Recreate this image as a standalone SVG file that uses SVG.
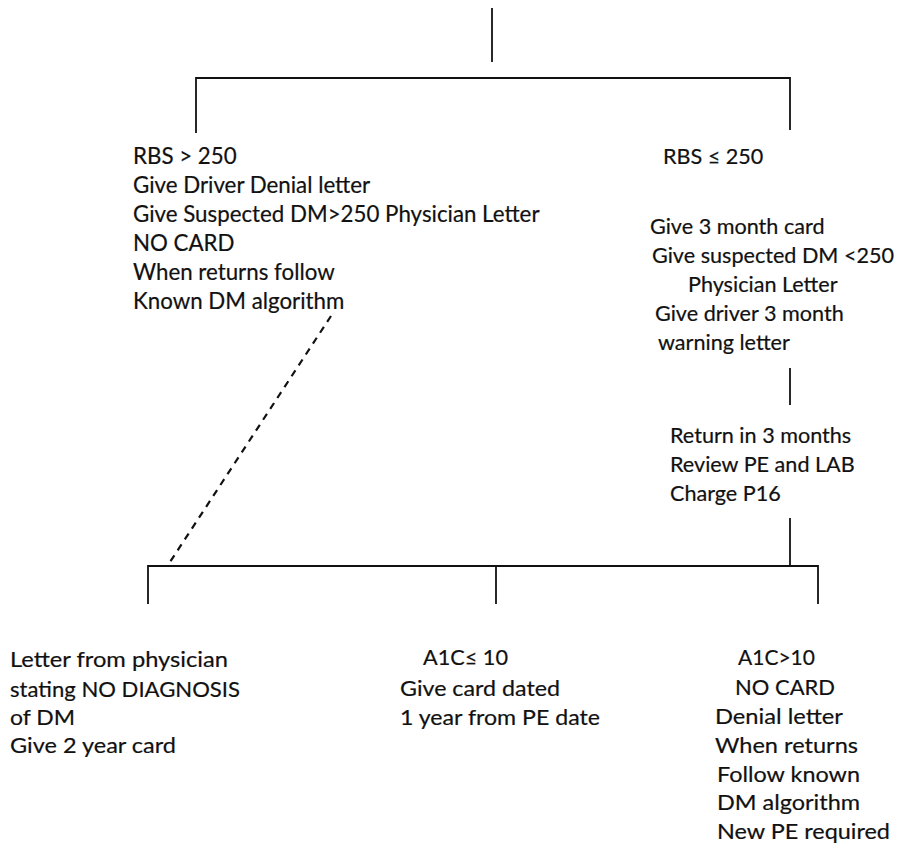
<svg xmlns="http://www.w3.org/2000/svg" width="903" height="852" viewBox="0 0 903 852">
<style>
  .ln { stroke:#111; stroke-width:1.8; fill:none; }
  .dash { stroke:#111; stroke-width:2.2; stroke-dasharray:7,6; fill:none; }
  text { font-family: Lato, "Open Sans", sans-serif; font-size:22.3px; fill:#111; stroke:#111; stroke-width:0.2; }
  .r { font-size:21.6px; }
  .b { font-size:22px; }
</style>
<rect width="903" height="852" fill="#fff"/>
<g id="connectors">
  <line class="ln" x1="492" y1="8" x2="492" y2="62"/>
  <polyline class="ln" points="196,133 196,78 790,78 790,130"/>
  <line class="ln" x1="790" y1="368" x2="790" y2="405"/>
  <line class="ln" x1="790" y1="518" x2="790" y2="566"/>
  <polyline class="ln" points="148,604 148,566 818,566 818,604"/>
  <line class="ln" x1="496" y1="566" x2="496" y2="604"/>
  <line class="dash" x1="331" y1="316" x2="170" y2="562"/>
</g>
<g id="rbs-high">
  <text x="133" y="164">RBS &gt; 250</text>
  <text x="133" y="193">Give Driver Denial letter</text>
  <text x="133" y="222">Give Suspected DM&gt;250 Physician Letter</text>
  <text x="133" y="251">NO CARD</text>
  <text x="133" y="280">When returns follow</text>
  <text x="133" y="309">Known DM algorithm</text>
</g>
<g id="rbs-low">
  <text class="r" x="663" y="164">RBS ≤ 250</text>
  <text class="r" x="650" y="234">Give 3 month card</text>
  <text class="r" x="652" y="263">Give suspected DM &lt;250</text>
  <text class="r" x="688" y="292">Physician Letter</text>
  <text class="r" x="655" y="321">Give driver 3 month</text>
  <text class="r" x="658" y="350">warning letter</text>
</g>
<g id="return">
  <text class="r" x="670" y="443">Return in 3 months</text>
  <text class="r" x="670" y="472">Review PE and LAB</text>
  <text class="r" x="670" y="501">Charge P16</text>
</g>
<g id="no-diagnosis">
  <text class="b" x="10" y="667" textLength="218" lengthAdjust="spacingAndGlyphs">Letter from physician</text>
  <text class="b" x="10" y="697" textLength="230" lengthAdjust="spacingAndGlyphs">stating NO DIAGNOSIS</text>
  <text class="b" x="10" y="725" textLength="65" lengthAdjust="spacingAndGlyphs">of DM</text>
  <text class="b" x="10" y="753" textLength="166" lengthAdjust="spacingAndGlyphs">Give 2 year card</text>
</g>
<g id="a1c-low">
  <text class="b" x="423" y="665" textLength="85" lengthAdjust="spacingAndGlyphs">A1C≤ 10</text>
  <text class="b" x="400" y="696" textLength="160" lengthAdjust="spacingAndGlyphs">Give card dated</text>
  <text class="b" x="400" y="725" textLength="200" lengthAdjust="spacingAndGlyphs">1 year from PE date</text>
</g>
<g id="a1c-high">
  <text class="b" x="738" y="665" textLength="77" lengthAdjust="spacingAndGlyphs">A1C&gt;10</text>
  <text class="b" x="735" y="695" textLength="100" lengthAdjust="spacingAndGlyphs">NO CARD</text>
  <text class="b" x="715" y="724" textLength="128" lengthAdjust="spacingAndGlyphs">Denial letter</text>
  <text class="b" x="715" y="753" textLength="143" lengthAdjust="spacingAndGlyphs">When returns</text>
  <text class="b" x="717" y="782" textLength="143" lengthAdjust="spacingAndGlyphs">Follow known</text>
  <text class="b" x="717" y="810" textLength="143" lengthAdjust="spacingAndGlyphs">DM algorithm</text>
  <text class="b" x="717" y="839" textLength="173" lengthAdjust="spacingAndGlyphs">New PE required</text>
</g>
</svg>
